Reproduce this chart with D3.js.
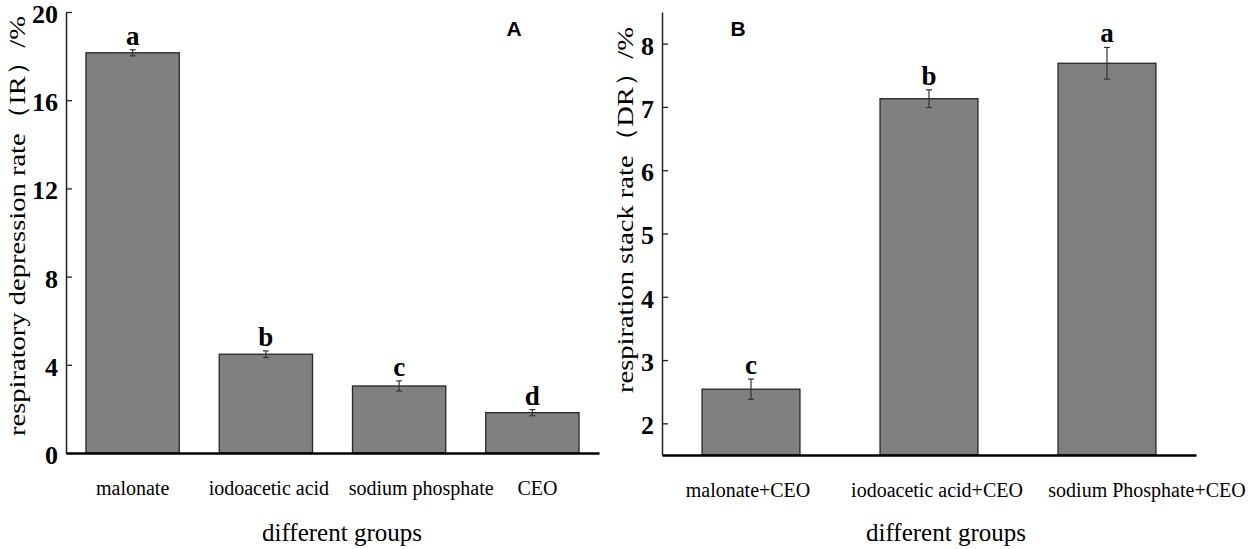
<!DOCTYPE html>
<html>
<head>
<meta charset="utf-8">
<script src="https://cdn.jsdelivr.net/npm/d3@7"></script>
<style>
  body { margin: 0; background: #fff; }
  svg { display: block; }
  .tick text { fill: #000; }
</style>
</head>
<body>
<div id="chart"></div>
<script>
// panel A data
const groupsA = ["malonate", "iodoacetic acid", "sodium phosphate", "CEO"];
const valuesA = [18.15, 4.48, 3.04, 1.83];
const errorsA = [0.14, 0.15, 0.23, 0.14];
const lettersA = ["a", "b", "c", "d"];
const ticksA = [0, 4, 8, 12, 16, 20];

// panel B data
const groupsB = ["malonate+CEO", "iodoacetic acid+CEO", "sodium Phosphate+CEO"];
const valuesB = [2.54, 7.13, 7.69];
const errorsB = [0.16, 0.14, 0.25];
const lettersB = ["c", "b", "a"];
const ticksB = [2, 3, 4, 5, 6, 7, 8];

const W = 1248, H = 549;
const serif = "'Liberation Serif', 'Times New Roman', serif";
const sans = "'Liberation Sans', Arial, sans-serif";

const svg = d3.select("#chart").append("svg")
  .attr("width", W)
  .attr("height", H);

function drawPanel(cfg) {
  const g = svg.append("g");

  const x = d3.scaleBand()
    .domain(cfg.groups)
    .range(cfg.xRange)
    .paddingInner(cfg.pad)
    .paddingOuter(cfg.pad / 2);

  const y = d3.scaleLinear()
    .domain(cfg.yDomain)
    .range(cfg.yRange);

  const data = cfg.groups.map((name, i) => ({
    name: name, value: cfg.values[i], err: cfg.errors[i], letter: cfg.letters[i]
  }));

  // bars
  g.selectAll("rect.bar")
    .data(data)
    .enter()
    .append("rect")
      .attr("class", "bar")
      .attr("x", d => x(d.name))
      .attr("y", d => y(d.value))
      .attr("width", x.bandwidth())
      .attr("height", d => y(cfg.yDomain[0]) - y(d.value))
      .style("fill", "#808080")
      .style("stroke", "#262626")
      .style("stroke-width", 1.3);

  // error bars
  const cap = 3;
  const eb = g.selectAll("g.err")
    .data(data)
    .enter()
    .append("g")
      .attr("class", "err")
      .style("stroke", "#333")
      .style("stroke-width", 1.2);

  eb.append("line")
    .attr("x1", d => x(d.name) + x.bandwidth() / 2)
    .attr("x2", d => x(d.name) + x.bandwidth() / 2)
    .attr("y1", d => y(d.value + d.err))
    .attr("y2", d => y(d.value - d.err));
  eb.append("line")
    .attr("x1", d => x(d.name) + x.bandwidth() / 2 - cap)
    .attr("x2", d => x(d.name) + x.bandwidth() / 2 + cap)
    .attr("y1", d => y(d.value + d.err))
    .attr("y2", d => y(d.value + d.err));
  eb.append("line")
    .attr("x1", d => x(d.name) + x.bandwidth() / 2 - cap)
    .attr("x2", d => x(d.name) + x.bandwidth() / 2 + cap)
    .attr("y1", d => y(d.value - d.err))
    .attr("y2", d => y(d.value - d.err));

  // significance letters
  g.selectAll("text.sig")
    .data(data)
    .enter()
    .append("text")
      .attr("class", "sig")
      .attr("x", d => x(d.name) + x.bandwidth() / 2)
      .attr("y", d => y(d.value + d.err) - 5)
      .attr("text-anchor", "middle")
      .style("font-family", serif)
      .style("font-weight", "bold")
      .style("font-size", "27px")
      .text(d => d.letter);

  // y axis, ticks pointing inwards
  const yAxis = g.append("g")
    .attr("transform", `translate(${cfg.xRange[0]},0)`)
    .call(d3.axisLeft(y)
      .tickValues(cfg.ticks)
      .tickFormat(d3.format("d"))
      .tickSizeInner(-6)
      .tickSizeOuter(0)
      .tickPadding(8));
  yAxis.select(".domain").style("stroke", "#222").style("stroke-width", 1.5);
  yAxis.selectAll(".tick line").style("stroke", "#222").style("stroke-width", 1.3);
  yAxis.selectAll(".tick text")
    .attr("dy", "0.4em")
    .style("font-family", serif)
    .style("font-weight", "bold")
    .style("font-size", "26px");

  // x axis baseline and labels
  const xAxis = g.append("g")
    .attr("transform", `translate(0,${y(cfg.yDomain[0])})`)
    .call(d3.axisBottom(x).tickSize(0).tickPadding(28));
  xAxis.select(".domain").style("stroke", "#000").style("stroke-width", 2.5);
  xAxis.selectAll(".tick text")
    .attr("dx", (d, i) => cfg.labelShift[i])
    .style("font-family", serif)
    .style("font-size", "20px");

  // axis titles
  g.append("text")
    .attr("transform", `translate(${cfg.yTitleX},${cfg.yTitleY}) rotate(-90)`)
    .attr("text-anchor", "middle")
    .attr("textLength", cfg.yTitleLen)
    .attr("lengthAdjust", "spacingAndGlyphs")
    .style("font-family", serif)
    .style("font-size", "24px")
    .text(cfg.yTitle);

  g.append("text")
    .attr("x", cfg.xTitleX)
    .attr("y", 541)
    .attr("text-anchor", "middle")
    .style("font-family", serif)
    .style("font-size", "25px")
    .text("different groups");

  // panel letter
  g.append("text")
    .attr("x", cfg.tagX)
    .attr("y", 36)
    .attr("text-anchor", "middle")
    .style("font-family", sans)
    .style("font-weight", "bold")
    .style("font-size", "21px")
    .text(cfg.tag);
}

drawPanel({
  groups: groupsA, values: valuesA, errors: errorsA, letters: lettersA, ticks: ticksA,
  xRange: [66, 599], pad: 0.3,
  yDomain: [0, 20], yRange: [453, 12],
  labelShift: [0, 3, 22, 5],
  yTitle: "respiratory depression rate（IR）/%",
  yTitleX: 25, yTitleY: 226, yTitleLen: 420,
  xTitleX: 342,
  tag: "A", tagX: 514
});

drawPanel({
  groups: groupsB, values: valuesB, errors: errorsB, letters: lettersB, ticks: ticksB,
  xRange: [662, 1196], pad: 0.45,
  yDomain: [1.5, 8.5], yRange: [455, 12],
  labelShift: [-3, 8, 40],
  yTitle: "respiration stack rate（DR）/%",
  yTitleX: 633, yTitleY: 210, yTitleLen: 366,
  xTitleX: 946,
  tag: "B", tagX: 738
});
</script>
</body>
</html>
